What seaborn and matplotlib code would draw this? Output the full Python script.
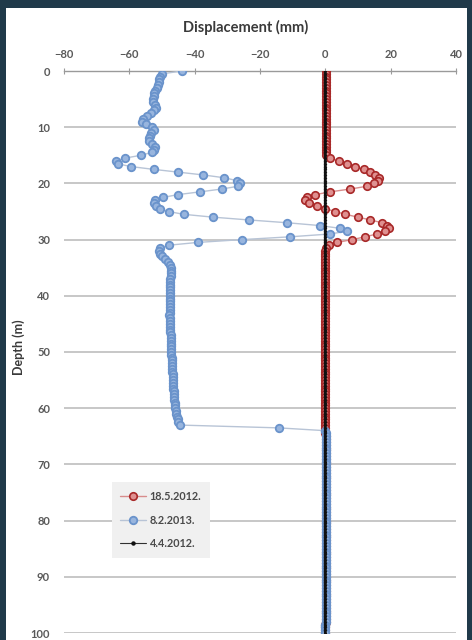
import numpy as np
import pandas as pd
import matplotlib
matplotlib.use("Agg")
import matplotlib.pyplot as plt
from matplotlib.lines import Line2D
from matplotlib.patches import Rectangle
import seaborn as sns

# Inclinometer readings every 0.5 m, depth 0 .. 100 m
depth = np.arange(0, 100.5, 0.5)

# 8.2.2013 displacement (mm)
disp_2013 = [
    -43.8, -50.0, -50.5, -50.8, -51.0, -51.3, -51.6, -52.0, -52.4, -52.6,   # 0.0 - 4.5
    -52.8, -52.7, -52.0, -51.7, -52.4, -53.3, -54.5, -55.8, -56.0, -55.0,   # 5.0 - 9.5
    -53.0, -52.6, -53.3, -53.7, -54.0, -54.0, -53.2, -52.2, -52.4, -53.2,   # 10.0 - 14.5
    -56.5, -61.3, -64.2, -63.6, -59.6, -52.6, -45.0, -37.3, -30.9, -27.1,   # 15.0 - 19.5
    -26.0, -26.6, -31.7, -38.3, -45.2, -49.7, -52.1, -52.3, -51.8, -50.7,   # 20.0 - 24.5
    -48.0, -43.4, -34.5, -23.5, -11.7, -1.7, 4.6, 6.6, 1.5, -10.7,          # 25.0 - 29.5
    -25.5, -39.0, -48.0, -50.5, -50.8, -50.5, -50.0, -49.2, -48.3, -47.6,   # 30.0 - 34.5
    -47.2, -47.1, -47.2, -47.3, -47.4, -47.5, -47.5, -47.6, -47.6, -47.6,   # 35.0 - 39.5
    -47.6, -47.7, -47.7, -47.6, -47.6, -47.6, -47.7, -47.8, -47.7, -47.6,   # 40.0 - 44.5
    -47.5, -47.5, -47.4, -47.4, -47.3, -47.3, -47.3, -47.2, -47.2, -47.2,   # 45.0 - 49.5
    -47.1, -47.1, -47.0, -47.0, -46.9, -46.9, -46.8, -46.8, -46.7, -46.7,   # 50.0 - 54.5
    -46.6, -46.6, -46.5, -46.5, -46.4, -46.4, -46.3, -46.2, -46.1, -46.0,   # 55.0 - 59.5
    -45.9, -45.8, -45.6, -45.4, -45.2, -45.0, -44.6, -14.3, 0.0, 0.1,       # 60.0 - 64.5
    0.1, 0.1, 0.2, 0.2, 0.2, 0.2, 0.2, 0.2, 0.2, 0.2,                       # 65.0 - 69.5
    0.2, 0.2, 0.2, 0.2, 0.2, 0.2, 0.2, 0.2, 0.2, 0.2,                       # 70.0 - 74.5
    0.2, 0.2, 0.2, 0.2, 0.2, 0.2, 0.2, 0.2, 0.2, 0.2,                       # 75.0 - 79.5
    0.2, 0.2, 0.2, 0.2, 0.2, 0.2, 0.2, 0.2, 0.2, 0.2,                       # 80.0 - 84.5
    0.1, 0.1, 0.1, 0.1, 0.1, 0.1, 0.1, 0.1, 0.1, 0.1,                       # 85.0 - 89.5
    0.1, 0.1, 0.1, 0.1, 0.1, 0.1, 0.1, 0.1, 0.1, 0.1,                       # 90.0 - 94.5
    0.1, 0.1, 0.1, 0.1, 0.1, 0.1, 0.1, 0.0, 0.0, 0.0, 0.0,                  # 95.0 - 100.0
]

# 18.5.2012 displacement (mm)
disp_2012_may = [
    0.2, 0.2, 0.2, 0.2, 0.2, 0.2, 0.2, 0.2, 0.2, 0.2,                       # 0.0 - 4.5
    0.2, 0.2, 0.2, 0.2, 0.2, 0.2, 0.2, 0.2, 0.2, 0.2,                       # 5.0 - 9.5
    0.2, 0.2, 0.2, 0.2, 0.2, 0.2, 0.2, 0.2, 0.2, 0.2,                       # 10.0 - 14.5
    0.3, 1.5, 4.1, 6.6, 9.2, 11.8, 13.8, 15.3, 16.4, 16.2,                  # 15.0 - 19.5
    15.0, 12.8, 7.7, 1.5, -3.1, -5.6, -6.1, -5.1, -2.6, 0.0,                # 20.0 - 24.5
    3.1, 6.1, 9.9, 13.8, 17.3, 18.8, 19.4, 18.4, 15.8, 12.2,                # 25.0 - 29.5
    8.2, 3.6, 1.0, 0.2, 0.0, 0.0, 0.0, 0.0, 0.0, 0.0,                       # 30.0 - 34.5
    0.0, 0.0, 0.0, 0.0, 0.0, 0.0, 0.0, 0.0, 0.0, 0.0,                       # 35.0 - 39.5
    0.0, 0.0, 0.0, 0.0, 0.0, 0.0, 0.0, 0.0, 0.0, 0.0,                       # 40.0 - 44.5
    0.0, 0.0, 0.0, 0.0, 0.0, 0.0, 0.0, 0.0, 0.0, 0.0,                       # 45.0 - 49.5
    0.0, 0.0, 0.0, 0.0, 0.0, 0.0, 0.0, 0.0, 0.0, 0.0,                       # 50.0 - 54.5
    0.0, 0.0, 0.0, 0.0, 0.0, 0.0, 0.0, 0.0, 0.0, 0.0,                       # 55.0 - 59.5
    0.0, 0.0, 0.0, 0.0, 0.0, 0.0, 0.0, 0.0, 0.0, 0.0,                       # 60.0 - 64.5
    0.3, 0.3, 0.3, 0.3, 0.3, 0.3, 0.3, 0.3, 0.3, 0.3,                       # 65.0 - 69.5
    0.3, 0.3, 0.3, 0.3, 0.3, 0.3, 0.3, 0.3, 0.3, 0.3,                       # 70.0 - 74.5
    0.2, 0.2, 0.2, 0.2, 0.2, 0.2, 0.2, 0.2, 0.2, 0.2,                       # 75.0 - 79.5
    0.2, 0.2, 0.2, 0.2, 0.2, 0.2, 0.2, 0.2, 0.2, 0.2,                       # 80.0 - 84.5
    0.1, 0.1, 0.1, 0.1, 0.1, 0.1, 0.1, 0.1, 0.1, 0.1,                       # 85.0 - 89.5
    0.1, 0.1, 0.1, 0.1, 0.1, 0.1, 0.1, 0.1, 0.1, 0.1,                       # 90.0 - 94.5
    0.1, 0.1, 0.1, 0.1, 0.1, 0.1, 0.1, 0.0, 0.0, 0.0, 0.0,                  # 95.0 - 100.0
]

# 4.4.2012 is the zero (reference) reading
disp_2012_apr = np.zeros(len(depth))

series_labels = ["18.5.2012.", "8.2.2013.", "4.4.2012."]
x_ticks = [-80, -60, -40, -20, 0, 20, 40]
y_ticks = [0, 10, 20, 30, 40, 50, 60, 70, 80, 90, 100]

df = pd.DataFrame({
    "depth": np.concatenate([depth, depth, depth]),
    "disp": np.concatenate([disp_2012_may, disp_2013, disp_2012_apr]),
    "date": np.repeat(series_labels, len(depth)),
})

sns.set_theme(style="white")
plt.rcParams["font.family"] = ["Lato", "DejaVu Sans"]

W, H = 472, 640
fig = plt.figure(figsize=(W / 100, H / 100), dpi=100)
fig.patch.set_facecolor("#203a4a")
# white card
fig.add_artist(Rectangle((6 / W, 0), (467 - 6) / W, (H - 8) / H,
                         transform=fig.transFigure, facecolor="white",
                         edgecolor="none", zorder=0))

ax = fig.add_axes([64 / W, 1 - 633 / H, (456 - 64) / W, (633 - 71) / H])
ax.set_facecolor("none")

styles = {
    "18.5.2012.": dict(color="#d88c8c", marker="o", markersize=5.4,
                       markerfacecolor="#df9090", markeredgecolor="#a82828",
                       markeredgewidth=1.2, linewidth=1.0, zorder=3),
    "8.2.2013.": dict(color="#b8c4d6", marker="o", markersize=5.4,
                      markerfacecolor="#98b5de", markeredgecolor="#6a93cb",
                      markeredgewidth=1.3, linewidth=1.0, zorder=4),
    "4.4.2012.": dict(color="#101010", marker="o", markersize=1.6,
                      markerfacecolor="#101010", markeredgecolor="#101010",
                      linewidth=1.6, zorder=5),
}

for lab in series_labels:
    sub = df[df["date"] == lab]
    sns.lineplot(data=sub, x="disp", y="depth", sort=False, estimator=None,
                 ax=ax, label=lab, legend=False, **styles[lab])

ax.set_xlim(-80, 40)
ax.set_ylim(100, 0)
ax.set_xticks(x_ticks)
ax.set_yticks(y_ticks)
ax.xaxis.tick_top()
ax.xaxis.set_label_position("top")
ax.set_xlabel("")
ax.set_ylabel("")

for s in ["left", "right", "bottom"]:
    ax.spines[s].set_visible(False)
ax.spines["top"].set_color("#9a9a9a")
ax.spines["top"].set_linewidth(1.0)

ax.grid(axis="y", color="#bdbdbd", linewidth=1.2)
ax.grid(axis="x", visible=False)
ax.set_axisbelow(True)

ax.tick_params(axis="x", which="major", direction="inout", length=4,
               width=0.8, color="#9a9a9a", labelsize=8, labelcolor="#595959",
               pad=6, top=True, bottom=False)
ax.tick_params(axis="y", length=0, labelsize=8, labelcolor="#595959", pad=10)
for t in ax.get_xticklabels() + ax.get_yticklabels():
    t.set_fontweight("bold")

fig.text(246 / W, 1 - 27 / H, "Displacement (mm)", ha="center", va="center",
         fontsize=10.5, fontweight="bold", color="#3a3a3a")
fig.text(19 / W, 1 - 347 / H, "Depth (m)", ha="center", va="center",
         rotation=90, fontsize=9, fontweight="bold", color="#3a3a3a")

legend_styles = {
    "18.5.2012.": dict(color="#d88c8c", marker="o", markersize=5.4,
                       markerfacecolor="#df9090", markeredgecolor="#a82828",
                       markeredgewidth=1.2, linewidth=1.0),
    "8.2.2013.": dict(color="#b8c4d6", marker="o", markersize=5.4,
                      markerfacecolor="#98b5de", markeredgecolor="#6a93cb",
                      markeredgewidth=1.3, linewidth=1.0),
    "4.4.2012.": dict(color="#303030", marker="o", markersize=2.2,
                      markerfacecolor="#101010", markeredgecolor="#101010",
                      linewidth=0.8),
}
handles = [Line2D([], [], **legend_styles[l]) for l in series_labels]
leg = ax.legend(handles, series_labels, loc="upper left",
                bbox_to_anchor=(0.122, 0.268), frameon=True, fancybox=False,
                facecolor="#f0f0f0", edgecolor="none", framealpha=1,
                fontsize=7.8, handlelength=2.4, labelspacing=1.15,
                borderpad=0.8, handletextpad=0.3, borderaxespad=0)
for t in leg.get_texts():
    t.set_fontweight("bold")
    t.set_color("#4a4a4a")

fig.savefig("out.png", dpi=100, facecolor=fig.get_facecolor())
